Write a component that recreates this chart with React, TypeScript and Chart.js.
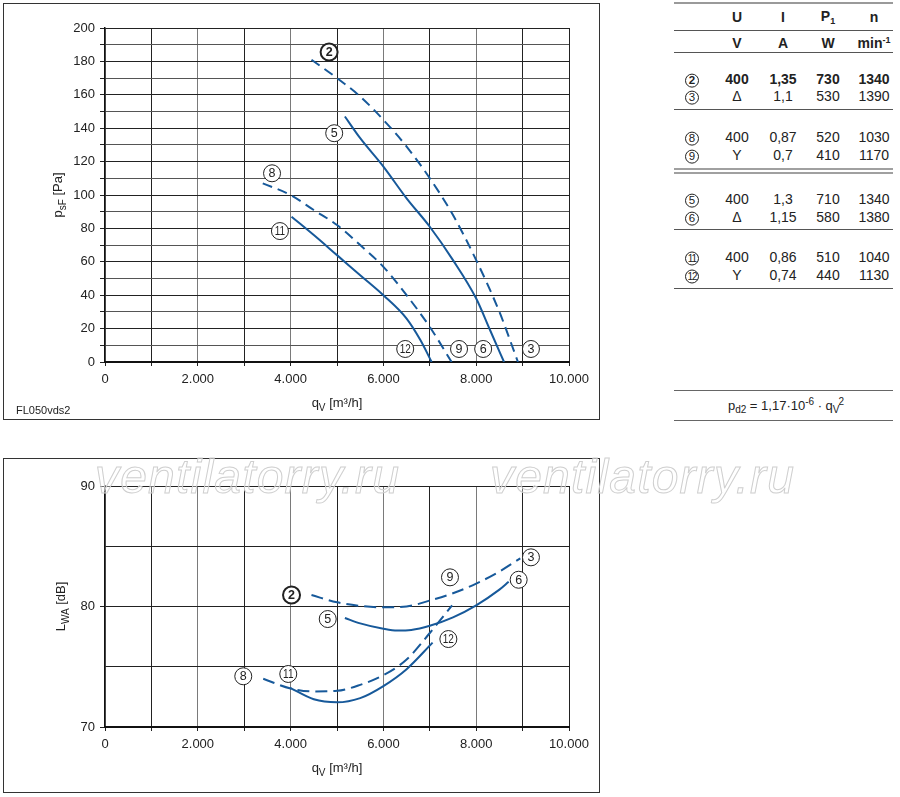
import React, { useEffect, useRef } from 'react';
import { Chart, registerables } from 'chart.js';

Chart.register(...registerables);

const FONT = "'Liberation Sans', Arial, Helvetica, sans-serif";
const BLUE = '#17599a';
const INK = '#222';

// ---------- top chart: static pressure p_sF [Pa] vs q_V [m³/h] ----------
const curve2Q = [4450, 5000, 5500, 6000, 6500, 7000, 7500, 8000, 8500, 8900];
const curve2P = [181, 170, 159, 145, 129, 110, 88, 61, 30, 0];
const curve5Q = [5170, 5500, 6000, 6500, 7000, 7500, 8000, 8300, 8600];
const curve5P = [147, 134, 117, 98, 81, 61, 38, 19, 0];
const curve8Q = [3400, 4000, 4500, 5000, 5500, 6000, 6500, 7000, 7470];
const curve8P = [107, 100, 91, 82, 70, 57, 40, 21, 0];
const curve11Q = [4020, 4500, 5000, 5500, 6000, 6500, 6800, 7040];
const curve11P = [87, 76, 64, 52, 40, 26, 13, 0];

const topLabelIds = ['2', '5', '8', '11', '12', '9', '6', '3'];
const topLabelQ = [4830, 4940, 3600, 3770, 6470, 7630, 8150, 9180];
const topLabelP = [185.6, 137, 113, 78.4, 7.8, 7.8, 7.8, 7.8];

// ---------- bottom chart: sound power L_WA [dB] vs q_V ----------
const snd2Q = [4450, 5000, 5500, 6000, 6500, 7000, 7500, 8000, 8500, 8950];
const snd2L = [80.95, 80.35, 80.05, 79.93, 80.0, 80.5, 81.1, 81.9, 82.9, 84.0];
const snd5Q = [5170, 5500, 6000, 6300, 6600, 7000, 7500, 8000, 8500, 8700];
const snd5L = [79.05, 78.6, 78.15, 78.0, 78.05, 78.4, 79.1, 80.1, 81.4, 82.05];
const snd8Q = [3410, 4000, 4500, 5000, 5500, 6000, 6500, 7000, 7480];
const snd8L = [74.0, 73.2, 72.95, 73.0, 73.5, 74.3, 75.6, 77.8, 80.1];
const snd11Q = [3990, 4500, 5000, 5500, 6000, 6500, 7060];
const snd11L = [73.25, 72.3, 72.05, 72.4, 73.4, 74.8, 77.0];

const botLabelIds = ['2', '5', '8', '11', '9', '3', '6', '12'];
const botLabelQ = [4020, 4800, 2980, 3950, 7435, 9180, 8915, 7400];
const botLabelL = [80.95, 78.96, 74.21, 74.4, 82.42, 84.08, 82.22, 77.3];

// ---------- table ----------
const tableHead = ['U', 'I', 'P1', 'n'];
const tableUnits = ['V', 'A', 'W', 'min-1'];
const tableIds = ['2', '3', '8', '9', '5', '6', '11', '12'];
const tableU = ['400', 'Δ', '400', 'Y', '400', 'Δ', '400', 'Y'];
const tableI = ['1,35', '1,1', '0,87', '0,7', '1,3', '1,15', '0,86', '0,74'];
const tableP1 = ['730', '530', '520', '410', '710', '580', '510', '440'];
const tableN = ['1340', '1390', '1030', '1170', '1340', '1380', '1040', '1130'];

// layout constants (page pixels)
const COL_X = [692, 737, 783, 828, 874];
const ROW_Y = [79, 96, 137, 155, 199, 217, 257, 275];
const TABLE_LINES = [
  { y: 3, c: '#9a9a9a', w: 2 },
  { y: 30.5, c: '#555', w: 1 },
  { y: 52, c: '#555', w: 1 },
  { y: 109.5, c: '#555', w: 1 },
  { y: 168.5, c: '#a0a0a0', w: 2 },
  { y: 172.5, c: '#a0a0a0', w: 2 },
  { y: 229, c: '#555', w: 1 },
  { y: 288, c: '#555', w: 1 },
  { y: 390.5, c: '#666', w: 1 },
  { y: 420.5, c: '#666', w: 1 },
];

const zip = (xs: number[], ys: number[]) => xs.map((x, i) => ({ x, y: ys[i] }));
const fmtThousands = (v: number) =>
  v >= 1000 ? `${Math.floor(v / 1000)}.${String(v % 1000).padStart(3, '0')}` : String(v);

type Seg = [string, number]; // 0 normal, 1 sub, 2 sup

function drawRich(ctx: CanvasRenderingContext2D, segs: Seg[], size: number) {
  const small = Math.round(size * 0.75);
  const widths = segs.map(([t, k]) => {
    ctx.font = `${k ? small : size}px ${FONT}`;
    return ctx.measureText(t).width;
  });
  const total = widths.reduce((a, b) => a + b, 0);
  let x = -total / 2;
  const base = size * 0.36;
  segs.forEach(([t, k], i) => {
    ctx.font = `${k ? small : size}px ${FONT}`;
    const dy = k === 1 ? size * 0.3 : k === 2 ? -size * 0.4 : 0;
    ctx.fillText(t, x, base + dy);
    x += widths[i];
  });
}

const richPlugin = {
  id: 'richTitles',
  afterDraw(chart: any, _a: any, opts: any) {
    const { ctx, chartArea } = chart;
    ctx.save();
    ctx.fillStyle = INK;
    ctx.textAlign = 'left';
    ctx.textBaseline = 'alphabetic';
    ctx.save();
    ctx.translate((chartArea.left + chartArea.right) / 2, chartArea.bottom + opts.xOffset);
    drawRich(ctx, opts.xSegs, 13);
    ctx.restore();
    ctx.save();
    ctx.translate(chartArea.left - opts.yOffset, (chartArea.top + chartArea.bottom) / 2);
    ctx.rotate(-Math.PI / 2);
    drawRich(ctx, opts.ySegs, 13);
    ctx.restore();
    ctx.restore();
  },
};

const labelPlugin = {
  id: 'circLabels',
  afterDatasetsDraw(chart: any, _a: any, opts: any) {
    const { ctx, scales } = chart;
    const ids: string[] = opts.ids || [];
    ids.forEach((t, i) => {
      const px = scales.x.getPixelForValue(opts.xs[i]);
      const py = scales.y.getPixelForValue(opts.ys[i]);
      const bold = t === '2';
      ctx.save();
      ctx.beginPath();
      ctx.arc(px, py, 8.5, 0, Math.PI * 2);
      ctx.fillStyle = '#fff';
      ctx.fill();
      ctx.lineWidth = bold ? 2 : 1;
      ctx.strokeStyle = INK;
      ctx.stroke();
      ctx.fillStyle = INK;
      ctx.textAlign = 'center';
      ctx.textBaseline = 'middle';
      ctx.translate(px, py + 0.5);
      if (t.length > 1) ctx.scale(0.8, 1);
      ctx.font = `${bold ? 'bold ' : ''}12.5px ${FONT}`;
      ctx.fillText(t, 0, 0);
      ctx.restore();
    });
  },
};

function lineDs(xs: number[], ys: number[], dashed: boolean, dash: number[]) {
  return {
    data: zip(xs, ys),
    borderColor: BLUE,
    borderWidth: 2,
    borderDash: dashed ? dash : [],
    pointRadius: 0,
    cubicInterpolationMode: 'monotone',
    fill: false,
  };
}

function baseScales(opts: {
  yMin: number; yMax: number; yStep: number; yLabelEvery: number; yMarkEvery: number;
  yMinorColor: string; xH: number;
}) {
  return {
    x: {
      type: 'linear',
      min: 0,
      max: 10000,
      afterFit: (s: any) => { s.height = opts.xH; },
      ticks: {
        stepSize: 1000,
        autoSkip: false,
        maxRotation: 0,
        padding: 6,
        color: INK,
        font: { family: FONT, size: 13 },
        callback: (v: number) => (v % 2000 === 0 ? fmtThousands(v) : ''),
      },
      grid: {
        color: (c: any) => (c.tick && c.tick.value % 2000 === 0 && c.tick.value !== 10000 ? '#7a7a7a' : '#222'),
        lineWidth: 1,
        tickLength: 4,
        tickColor: '#222',
      },
      border: { color: '#111', width: 2 },
    },
    y: {
      type: 'linear',
      min: opts.yMin,
      max: opts.yMax,
      afterFit: (s: any) => { s.width = 102; },
      ticks: {
        stepSize: opts.yStep,
        autoSkip: false,
        padding: 5,
        color: INK,
        font: { family: FONT, size: 13 },
        callback: (v: number) => ((v - opts.yMin) % opts.yLabelEvery === 0 ? String(v) : ''),
      },
      grid: {
        color: (c: any) => (c.tick && (c.tick.value - opts.yMin) % opts.yLabelEvery === 0 ? '#222' : opts.yMinorColor),
        lineWidth: 1,
        tickLength: 5,
        tickColor: (c: any) => (c.tick && (c.tick.value - opts.yMin) % opts.yMarkEvery === 0 ? '#222' : 'rgba(0,0,0,0)'),
      },
      border: { color: '#111', width: 1.5 },
    },
  };
}

const topConfig: any = {
  type: 'line',
  data: {
    datasets: [
      lineDs(curve2Q, curve2P, true, [10, 6]),
      lineDs(curve5Q, curve5P, false, []),
      lineDs(curve8Q, curve8P, true, [10, 6]),
      lineDs(curve11Q, curve11P, false, []),
    ],
  },
  options: {
    responsive: false,
    animation: false,
    devicePixelRatio: 1,
    parsing: false,
    layout: { padding: { left: 0, right: 31, top: 25, bottom: 0 } },
    plugins: {
      legend: { display: false },
      tooltip: { enabled: false },
      circLabels: { ids: topLabelIds, xs: topLabelQ, ys: topLabelP },
      richTitles: {
        xSegs: [['q', 0], ['V', 1], [' [m³/h]', 0]],
        ySegs: [['p', 0], ['sF', 1], [' [Pa]', 0]],
        xOffset: 40,
        yOffset: 48,
      },
    },
    scales: baseScales({ yMin: 0, yMax: 200, yStep: 10, yLabelEvery: 20, yMarkEvery: 10, yMinorColor: '#555', xH: 58 }),
  },
  plugins: [labelPlugin, richPlugin],
};

const bottomConfig: any = {
  type: 'line',
  data: {
    datasets: [
      lineDs(snd2Q, snd2L, true, [12, 6]),
      lineDs(snd5Q, snd5L, false, []),
      lineDs(snd8Q, snd8L, true, [12, 6]),
      lineDs(snd11Q, snd11L, false, []),
    ],
  },
  options: {
    responsive: false,
    animation: false,
    devicePixelRatio: 1,
    parsing: false,
    layout: { padding: { left: 0, right: 31, top: 28, bottom: 0 } },
    plugins: {
      legend: { display: false },
      tooltip: { enabled: false },
      circLabels: { ids: botLabelIds, xs: botLabelQ, ys: botLabelL },
      richTitles: {
        xSegs: [['q', 0], ['V', 1], [' [m³/h]', 0]],
        ySegs: [['L', 0], ['WA', 1], [' [dB]', 0]],
        xOffset: 40,
        yOffset: 45,
      },
    },
    scales: baseScales({ yMin: 70, yMax: 90, yStep: 5, yLabelEvery: 5, yMarkEvery: 10, yMinorColor: '#222', xH: 65 }),
  },
  plugins: [labelPlugin, richPlugin],
};
bottomConfig.options.scales.y.ticks.callback = (v: number) => ((v - 70) % 10 === 0 ? String(v) : '');

function ChartCanvas({ config, left, top, width, height }: any) {
  const ref = useRef<HTMLCanvasElement>(null);
  useEffect(() => {
    const chart = new Chart(ref.current as HTMLCanvasElement, config);
    return () => chart.destroy();
  }, [config]);
  return (
    <canvas
      ref={ref}
      width={width}
      height={height}
      style={{ position: 'absolute', left, top, width, height }}
    />
  );
}

function Circ({ t, size = 14 }: { t: string; size?: number }) {
  const bold = t === '2';
  return (
    <span
      style={{
        display: 'inline-flex',
        alignItems: 'center',
        justifyContent: 'center',
        width: size,
        height: size,
        borderRadius: '50%',
        border: `${bold ? 1.7 : 1}px solid ${INK}`,
        boxSizing: 'border-box',
        fontSize: t.length > 1 ? 10 : 11.5,
        fontWeight: bold ? 700 : 400,
        letterSpacing: t.length > 1 ? -1 : 0,
        lineHeight: 1,
      }}
    >
      {t}
    </span>
  );
}

function Cell({ x, y, children, bold }: any) {
  return (
    <div
      style={{
        position: 'absolute',
        left: x,
        top: y,
        transform: 'translate(-50%, -50%)',
        whiteSpace: 'nowrap',
        fontWeight: bold ? 700 : 400,
        lineHeight: 1.15,
      }}
    >
      {children}
    </div>
  );
}

function renderHead(t: string) {
  if (t === 'P1') return <>P<sub style={{ fontSize: 9, verticalAlign: -3 }}>1</sub></>;
  if (t === 'min-1') return <>min<sup style={{ fontSize: 9, verticalAlign: 5 }}>-1</sup></>;
  return t;
}

export default function App() {
  const cols = [tableU, tableI, tableP1, tableN];
  return (
    <div
      style={{
        position: 'absolute',
        left: 0,
        top: 0,
        width: 900,
        height: 797,
        background: '#fff',
        overflow: 'hidden',
        fontFamily: FONT,
        color: INK,
        fontSize: 14,
      }}
    >
      <div style={{ position: 'absolute', left: 3, top: 3, width: 597, height: 417, border: '1px solid #333', boxSizing: 'border-box' }} />
      <div style={{ position: 'absolute', left: 3, top: 458, width: 597, height: 335, border: '1px solid #333', boxSizing: 'border-box' }} />

      <ChartCanvas config={topConfig} left={3} top={3} width={597} height={417} />
      <ChartCanvas config={bottomConfig} left={3} top={458} width={597} height={334} />

      <div style={{ position: 'absolute', left: 16, top: 405, fontSize: 11, lineHeight: '11px' }}>FL050vds2</div>

      {TABLE_LINES.map((l, i) => (
        <div key={i} style={{ position: 'absolute', left: 674, width: 219, top: l.y - l.w / 2, height: l.w, background: l.c }} />
      ))}
      {tableHead.map((h, i) => (
        <Cell key={'h' + i} x={COL_X[i + 1]} y={17} bold>{renderHead(h)}</Cell>
      ))}
      {tableUnits.map((h, i) => (
        <Cell key={'u' + i} x={COL_X[i + 1]} y={43} bold>{renderHead(h)}</Cell>
      ))}
      {tableIds.map((id, r) => (
        <React.Fragment key={'r' + r}>
          <Cell x={COL_X[0]} y={ROW_Y[r]}><Circ t={id} /></Cell>
          {cols.map((col, c) => (
            <Cell key={c} x={COL_X[c + 1]} y={ROW_Y[r]} bold={id === '2'}>{col[r]}</Cell>
          ))}
        </React.Fragment>
      ))}
      <Cell x={786} y={406}>
        <span style={{ fontSize: 13 }}>
          p<sub style={{ fontSize: 10, verticalAlign: -3 }}>d2</sub> = 1,17·10<sup style={{ fontSize: 10, verticalAlign: 5 }}>-6</sup> · q<sub style={{ fontSize: 10, verticalAlign: -3 }}>V</sub><sup style={{ fontSize: 10, verticalAlign: 5, marginLeft: -1 }}>2</sup>
        </span>
      </Cell>

      {[95, 490].map((x) => (
        <div
          key={x}
          style={{
            position: 'absolute',
            left: x,
            top: 453,
            fontSize: 48,
            lineHeight: '48px',
            fontStyle: 'italic',
            letterSpacing: 1.2,
            color: 'rgba(255,255,255,0.35)',
            WebkitTextStroke: '1px #cfcfcf',
            whiteSpace: 'nowrap',
            pointerEvents: 'none',
          }}
        >
          ventilatorry.ru
        </div>
      ))}
    </div>
  );
}
